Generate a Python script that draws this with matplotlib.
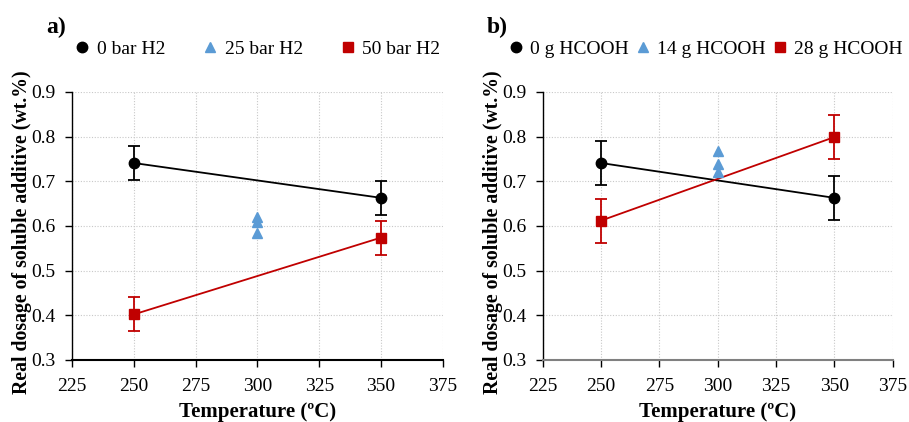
import numpy as np
import matplotlib
matplotlib.use('Agg')
import matplotlib.pyplot as plt
from matplotlib.lines import Line2D

plt.rcParams['font.family'] = ['Liberation Serif', 'DejaVu Serif']

# temperatures (C)
temp_ends = [250, 350]
temp_mid = [300, 300, 300]

# a) effect of H2 pressure
a_0bar = [0.741, 0.663]
a_0bar_err = [0.038, 0.038]
a_25bar = [0.620, 0.610, 0.584]
a_50bar = [0.402, 0.574]
a_50bar_err = [0.038, 0.038]
a_labels = ['0 bar H2', '25 bar H2', '50 bar H2']

# b) effect of formic acid
b_0g = [0.741, 0.663]
b_0g_err = [0.049, 0.049]
b_14g = [0.768, 0.738, 0.720]
b_28g = [0.612, 0.799]
b_28g_err = [0.049, 0.049]
b_labels = ['0 g HCOOH', '14 g HCOOH', '28 g HCOOH']

BLACK = '#000000'
BLUE = '#5B9BD5'
RED = '#C00000'

fig = plt.figure(figsize = (9.09, 4.22), dpi = 100)
ax_a = fig.add_axes([0.0792, 0.147, 0.408, 0.635])
ax_b = fig.add_axes([0.597, 0.147, 0.385, 0.635])

def draw(ax, base, base_err, mid, high, high_err, labels, tag, tag_x, legend_x, colspace, xaxis_color):
    ax.errorbar(temp_ends, base, yerr = base_err, color = BLACK, marker = 'o', ms = 7.5,
        lw = 1.3, capsize = 4, capthick = 1.3, elinewidth = 1.3, zorder = 5)
    ax.errorbar(temp_ends, high, yerr = high_err, color = RED, marker = 's', ms = 7,
        lw = 1.3, capsize = 4, capthick = 1.3, elinewidth = 1.3, zorder = 5)
    ax.plot(temp_mid, mid, linestyle = 'none', marker = '^', ms = 7, color = BLUE, zorder = 6)

    ax.set_xlim(225, 375)
    ax.set_ylim(0.3, 0.9)
    xt = np.arange(225, 376, 25)
    yt = np.arange(0.3, 0.91, 0.1)
    ax.set_xticks(xt)
    ax.set_xticklabels(['%d' % v for v in xt])
    ax.set_yticks(yt)
    ax.set_yticklabels(['%.1f' % v for v in yt])
    ax.tick_params(labelsize = 14, length = 5, width = 1.0, direction = 'out')
    ax.tick_params(axis = 'x', pad = 8)
    ax.tick_params(axis = 'y', pad = 7)
    ax.grid(True, ls = (0, (1, 1.5)), lw = 0.8, color = '#c8c8c8')
    ax.set_axisbelow(True)
    for side in ['top', 'right']:
        ax.spines[side].set_visible(False)
    ax.spines['left'].set_linewidth(1.0)
    ax.spines['bottom'].set_linewidth(1.5)
    ax.spines['bottom'].set_color(xaxis_color)

    ax.set_xlabel('Temperature (ºC)', fontsize = 15, fontweight = 'bold', labelpad = 5)
    ax.set_ylabel('Real dosage of soluble additive (wt.%)', fontsize = 14.2,
        fontweight = 'bold')
    ax.yaxis.set_label_coords(-40.0 / (ax.get_position().width * 909), 0.476)

    handles = [
        Line2D([], [], ls = 'none', marker = 'o', ms = 7.5, color = BLACK),
        Line2D([], [], ls = 'none', marker = '^', ms = 7, color = BLUE),
        Line2D([], [], ls = 'none', marker = 's', ms = 7, color = RED)]
    ax.legend(handles, labels, ncol = 3, loc = 'center', bbox_to_anchor = (legend_x, 1.16),
        frameon = False, fontsize = 14, handlelength = 0.8, handletextpad = 0.35,
        columnspacing = colspace, borderaxespad = 0, borderpad = 0)

    fig.text(tag_x, 0.935, tag, fontsize = 17, fontweight = 'bold', ha = 'left', va = 'center')

draw(ax_a, a_0bar, a_0bar_err, a_25bar, a_50bar, a_50bar_err, a_labels, 'a)', 0.051, 0.5, 1.9, BLACK)
draw(ax_b, b_0g, b_0g_err, b_14g, b_28g, b_28g_err, b_labels, 'b)', 0.535, 0.465, 0.3, '#808080')

fig.savefig('out.png', dpi = 100)
